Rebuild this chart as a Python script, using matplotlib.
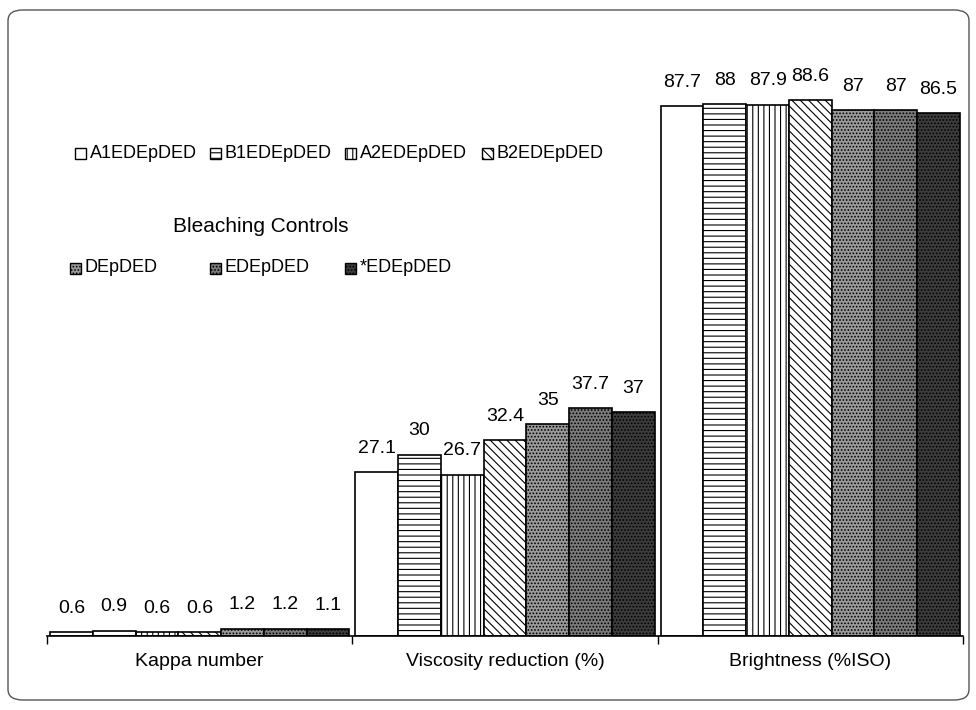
import numpy as np
import matplotlib.pyplot as plt
from matplotlib.patches import FancyBboxPatch, Rectangle

plt.rcParams['font.family'] = ['Liberation Sans', 'DejaVu Sans']
plt.rcParams['hatch.linewidth'] = 0.8

# datos
categorias = ['Kappa number', 'Viscosity reduction (%)', 'Brightness (%ISO)']
series = ['A1EDEpDED', 'B1EDEpDED', 'A2EDEpDED', 'B2EDEpDED',
          'DEpDED', 'EDEpDED', '*EDEpDED']
valores = {
    'A1EDEpDED': [0.6, 27.1, 87.7],
    'B1EDEpDED': [0.9, 30, 88],
    'A2EDEpDED': [0.6, 26.7, 87.9],
    'B2EDEpDED': [0.6, 32.4, 88.6],
    'DEpDED': [1.2, 35, 87],
    'EDEpDED': [1.2, 37.7, 87],
    '*EDEpDED': [1.1, 37, 86.5],
}
etiquetas = {
    'A1EDEpDED': ['0.6', '27.1', '87.7'],
    'B1EDEpDED': ['0.9', '30', '88'],
    'A2EDEpDED': ['0.6', '26.7', '87.9'],
    'B2EDEpDED': ['0.6', '32.4', '88.6'],
    'DEpDED': ['1.2', '35', '87'],
    'EDEpDED': ['1.2', '37.7', '87'],
    '*EDEpDED': ['1.1', '37', '86.5'],
}

# estilos
estilos = {
    'A1EDEpDED': ('white', ''),
    'B1EDEpDED': ('white', '---'),
    'A2EDEpDED': ('white', '|||'),
    'B2EDEpDED': ('white', '\\\\\\\\'),
    'DEpDED': ('#9a9a9a', '.....'),
    'EDEpDED': ('#7a7a7a', '.....'),
    '*EDEpDED': ('#3c3c3c', '.....'),
}

W, H = 976, 710
fig = plt.figure(figsize=(W / 100, H / 100), dpi=100)

# marco redondeado
marco = FancyBboxPatch((8 / W, 10 / H), 961 / W, 690 / H,
                       boxstyle='round,pad=0,rounding_size=0.015',
                       transform=fig.transFigure, fill=False,
                       edgecolor='#555555', linewidth=1.0)
fig.patches.append(marco)

ax = fig.add_axes([47 / W, 1 - 636 / H, 916 / W, 544 / H])

x = np.arange(len(categorias))
ancho = 0.14
n = len(series)
for i, s in enumerate(series):
    fc, hatch = estilos[s]
    pos = x - ancho * n / 2 + ancho * (i + 0.5)
    barras = ax.bar(pos, valores[s], ancho, facecolor=fc, hatch=hatch,
                    edgecolor='black', linewidth=1.2)
    for b, txt in zip(barras, etiquetas[s]):
        ax.annotate(txt, (b.get_x() + b.get_width() / 2, b.get_height()),
                    xytext=(0, 11), textcoords='offset points',
                    ha='center', va='bottom', fontsize=14)

ax.set_xlim(-0.5, 2.5)
ax.set_ylim(0, 90)
ax.set_xticks(x)
ax.set_xticklabels(categorias, fontsize=14)
ax.set_xticks([-0.5, 0.5, 1.5, 2.5], minor=True)
ax.tick_params(axis='x', which='major', length=0, pad=12)
ax.tick_params(axis='x', which='minor', length=6, width=1)
ax.set_yticks([])
for lado in ['top', 'right', 'left']:
    ax.spines[lado].set_visible(False)
ax.spines['bottom'].set_linewidth(1.2)

# leyenda manual
def entrada(px, py, s):
    fc, hatch = estilos[s]
    r = Rectangle((px / W, 1 - (py + 5.5) / H), 11 / W, 11 / H,
                  transform=fig.transFigure, facecolor=fc, hatch=hatch,
                  edgecolor='black', linewidth=1.0)
    fig.patches.append(r)
    fig.text((px + 15) / W, 1 - py / H, s, fontsize=13, va='center')

for px, s in zip([75, 210, 345, 482], series[:4]):
    entrada(px, 153, s)
fig.text(173 / W, 1 - 226 / H, 'Bleaching Controls', fontsize=15,
         ha='left', va='center')
for px, s in zip([70, 210, 345], series[4:]):
    entrada(px, 268, s)

plt.savefig('out.png', dpi=100)
